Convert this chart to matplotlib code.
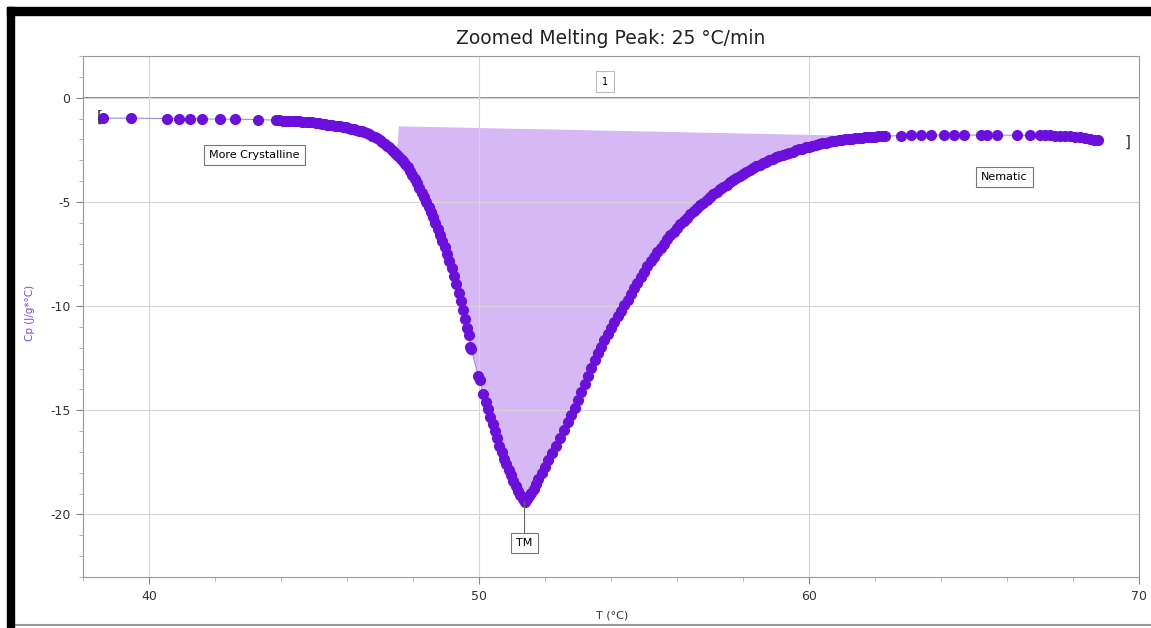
import numpy as np
import matplotlib.pyplot as plt
from matplotlib.patches import Rectangle
from matplotlib.lines import Line2D

plt.rcParams['axes.unicode_minus'] = False

# temperature (deg C) and heat capacity Cp (J/g*deg C) read across the melting run
temp = [38.6, 39.45, 40.55, 40.9, 41.25, 41.6, 42.15, 42.6, 43.3,
        43.85, 43.95, 44.05, 44.15, 44.25, 44.35, 44.45, 44.55, 44.65, 44.75,
        44.85, 44.95, 45.05, 45.15, 45.25,
        45.32, 45.4, 45.48, 45.56, 45.64, 45.72, 45.8, 45.88, 45.96, 46.04,
        46.12, 46.2, 46.28, 46.36, 46.44, 46.52, 46.6, 46.68, 46.76, 46.84, 46.92,
        47.0, 47.07, 47.14, 47.21, 47.28, 47.35, 47.42, 47.49, 47.56, 47.63,
        47.7, 47.77, 47.84, 47.91, 47.98, 48.05, 48.12, 48.19, 48.26, 48.33,
        48.4, 48.47, 48.54, 48.61, 48.68, 48.75, 48.82, 48.89, 48.96, 49.03,
        49.1, 49.17, 49.24, 49.31, 49.38, 49.45, 49.52, 49.58, 49.64, 49.69,
        49.74, 49.76,
        49.98, 50.02, 50.13, 50.2, 50.27, 50.34, 50.41, 50.48, 50.55, 50.62,
        50.69, 50.76, 50.83, 50.9, 50.97, 51.04, 51.11, 51.18, 51.25, 51.32, 51.38,
        51.45, 51.52, 51.59, 51.66, 51.73, 51.8, 51.9, 52.0, 52.1, 52.22,
        52.34, 52.46, 52.58, 52.7, 52.8, 52.9, 53.0, 53.1, 53.2, 53.3,
        53.4, 53.5, 53.6, 53.7, 53.8, 53.9, 54.0, 54.1, 54.2, 54.3,
        54.4, 54.5, 54.6, 54.7, 54.8, 54.9, 55.0, 55.1, 55.2, 55.3,
        55.4, 55.5, 55.6, 55.7, 55.8, 55.9, 56.0, 56.1, 56.2, 56.3,
        56.4, 56.5, 56.6, 56.7, 56.8, 56.9, 57.0, 57.1, 57.2, 57.3,
        57.4, 57.5, 57.6, 57.7, 57.8, 57.9, 58.0, 58.1, 58.2, 58.3,
        58.4, 58.5, 58.6, 58.7, 58.8, 58.9, 59.0, 59.1, 59.2, 59.3,
        59.4, 59.5, 59.6, 59.7, 59.8, 59.9, 60.0, 60.1, 60.2, 60.3,
        60.4, 60.5, 60.6, 60.7, 60.8, 60.9, 61.0, 61.1, 61.2, 61.3,
        61.4, 61.5, 61.6, 61.7, 61.8, 61.9, 62.0, 62.1, 62.2, 62.3,
        62.8, 63.1, 63.4, 63.7, 64.1, 64.4, 64.7, 65.2, 65.4, 65.7, 66.3,
        66.7, 67.0, 67.15, 67.3, 67.45, 67.6, 67.75, 67.9, 68.05, 68.2,
        68.35, 68.5, 68.65, 68.75]
cp = [-0.98, -0.98, -1.0, -1.0, -1.0, -1.02, -1.03, -1.03, -1.05,
      -1.08, -1.08, -1.1, -1.1, -1.1, -1.12, -1.13, -1.14, -1.15, -1.16,
      -1.18, -1.19, -1.2, -1.22, -1.24,
      -1.27, -1.29, -1.31, -1.32, -1.34, -1.36, -1.37, -1.4, -1.42, -1.45,
      -1.48, -1.51, -1.54, -1.58, -1.62, -1.66, -1.71, -1.76, -1.82, -1.88, -1.95,
      -2.03, -2.12, -2.21, -2.3, -2.39, -2.49, -2.59, -2.69, -2.8, -2.92,
      -3.06, -3.2, -3.35, -3.52, -3.7, -3.9, -4.1, -4.32, -4.55, -4.78,
      -5.0, -5.24, -5.48, -5.74, -6.02, -6.3, -6.58, -6.86, -7.16, -7.48,
      -7.82, -8.18, -8.56, -8.95, -9.35, -9.75, -10.2, -10.6, -11.05, -11.4,
      -11.95, -12.05,
      -13.35, -13.55, -14.2, -14.62, -14.95, -15.3, -15.65, -16.0, -16.35, -16.7,
      -17.02, -17.32, -17.6, -17.88, -18.12, -18.38, -18.62, -18.85, -19.05, -19.25, -19.38,
      -19.28, -19.12, -18.95, -18.78, -18.55, -18.3, -18.0, -17.7, -17.4, -17.05,
      -16.7, -16.35, -15.95, -15.58, -15.22, -14.88, -14.5, -14.12, -13.75, -13.35,
      -12.95, -12.6, -12.25, -11.95, -11.65, -11.35, -11.06, -10.78, -10.5, -10.23,
      -9.97, -9.7, -9.42, -9.15, -8.88, -8.62, -8.36, -8.1, -7.86, -7.63,
      -7.42, -7.2, -7.0, -6.8, -6.61, -6.43, -6.25, -6.08, -5.91, -5.75,
      -5.6, -5.45, -5.3, -5.16, -5.03, -4.9, -4.77, -4.64, -4.52, -4.4,
      -4.28, -4.17, -4.06, -3.95, -3.85, -3.75, -3.65, -3.56, -3.47, -3.39,
      -3.3, -3.22, -3.14, -3.07, -3.0, -2.94, -2.87, -2.81, -2.75, -2.69,
      -2.64, -2.59, -2.53, -2.48, -2.44, -2.39, -2.35, -2.31, -2.27, -2.23,
      -2.19, -2.16, -2.13, -2.1, -2.07, -2.05, -2.02, -2.0, -1.98, -1.96,
      -1.95, -1.94, -1.92, -1.91, -1.9, -1.89, -1.87, -1.86, -1.85, -1.84,
      -1.82, -1.81, -1.8, -1.8, -1.79, -1.79, -1.79, -1.8, -1.8, -1.8, -1.8,
      -1.81, -1.8, -1.8, -1.81, -1.82, -1.83, -1.84, -1.86, -1.88, -1.9,
      -1.93, -1.97, -2.01, -2.05]

# straight baseline under the peak used for the integration area
base_t = [47.5, 61.2]
base_cp = [-1.35, -1.80]

# selection brackets
bracket_t = [38.52, 69.65]
bracket_cp = [-0.96, -2.16]

purple = '#6a0fdc'
fill_col = '#d5b8f4'

fig = plt.figure(figsize=(11.51, 6.28), dpi=100)
ax = fig.add_axes([83 / 1151, 1 - 577 / 628, (1139 - 83) / 1151, (577 - 56) / 628])

t = np.array(temp)
c = np.array(cp)
base = np.interp(t, base_t, base_cp)
region = (t >= base_t[0]) & (t <= base_t[1])
ax.fill_between(t, c, base, where=region & (c <= base), interpolate=True,
                color=fill_col, lw=0, zorder=1)

ax.plot(t, c, '-', color='#8f7de8', lw=0.7, zorder=2)
ax.plot(t, c, 'o', color=purple, ms=7, mec=purple, zorder=3)

ax.set_xlim(38, 70)
ax.set_ylim(-23, 2)
ax.set_xticks([40, 50, 60, 70])
ax.set_xticks(np.arange(38, 71, 2), minor=True)
ax.set_yticks([0, -5, -10, -15, -20])
ax.set_yticks(np.arange(-23, 3, 1), minor=True)
ax.tick_params(which='major', length=5, width=0.8, color='#888888',
               labelsize=9, labelcolor='#333333', pad=4)
ax.tick_params(which='minor', length=3, width=0.6, color='#aaaaaa')
ax.grid(True, which='major', color='#d4d4d4', lw=0.8)
ax.axhline(0, color='#777777', lw=1.2, zorder=1.5)
for s in ax.spines.values():
    s.set_color('#999999')
    s.set_linewidth(0.8)

ax.set_title('Zoomed Melting Peak: 25 °C/min', fontsize=13.5, color='#222222', pad=9)
fig.text(30 / 1151, 1 - 313 / 628, 'Cp (J/g*°C)', rotation=90, fontsize=7.5,
         color='#7a45e0', ha='center', va='center')
fig.text(612 / 1151, 1 - 615 / 628, 'T (°C)', fontsize=8, color='#333333',
         ha='center', va='center')

box = dict(boxstyle='square,pad=0.45', fc='white', ec='#777777', lw=0.8)
ax.text(43.19, -2.73, 'More Crystalline', fontsize=8, ha='center', va='center', bbox=box)
ax.text(65.92, -3.79, 'Nematic', fontsize=8, ha='center', va='center', bbox=box)
ax.text(53.81, 0.77, '1', fontsize=7, ha='center', va='center',
        bbox=dict(boxstyle='square,pad=0.6', fc='white', ec='#bbbbbb', lw=0.8))

imin = int(np.argmin(c))
ax.annotate('TM', xy=(t[imin], c[imin]), xytext=(t[imin], -21.38), fontsize=8,
            ha='center', va='center', bbox=box,
            arrowprops=dict(arrowstyle='-', color='#666666', lw=0.8, shrinkA=0, shrinkB=0))

ax.text(bracket_t[0], bracket_cp[0], '[', fontsize=11, ha='center', va='center', color='#333333')
ax.text(bracket_t[1], bracket_cp[1], ']', fontsize=11, ha='center', va='center', color='#333333')

# window frame
fig.patches.append(Rectangle((7 / 1151, 1 - 15 / 628), 1 - 7 / 1151, 8 / 628,
                             transform=fig.transFigure, color='black', zorder=10))
fig.patches.append(Rectangle((7 / 1151, 0), 7 / 1151, 1 - 7 / 628,
                             transform=fig.transFigure, color='black', zorder=10))
fig.lines.append(Line2D([14 / 1151, 1], [1 - 625 / 628, 1 - 625 / 628],
                        transform=fig.transFigure, color='#999999', lw=1.5))

fig.savefig('out.png', dpi=100)
